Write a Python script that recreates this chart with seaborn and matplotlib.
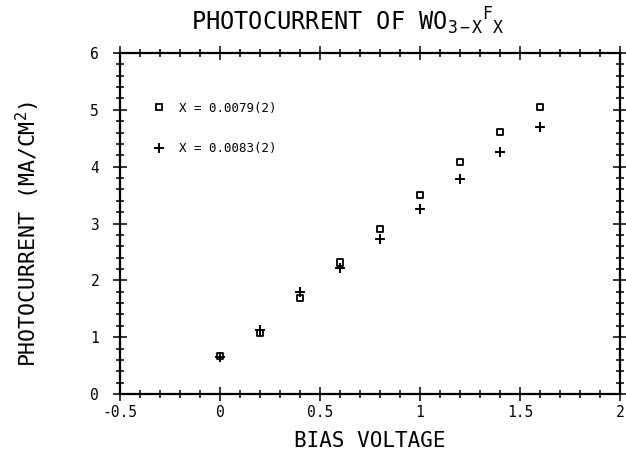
import numpy as np
import pandas as pd
import matplotlib
matplotlib.use("Agg")
import matplotlib.pyplot as plt
import seaborn as sns
from matplotlib.ticker import MultipleLocator
from matplotlib.lines import Line2D

# ---- data ----
bias_voltage = [0.0, 0.2, 0.4, 0.6, 0.8, 1.0, 1.2, 1.4, 1.6]
current_x0079 = [0.67, 1.07, 1.69, 2.31, 2.90, 3.50, 4.08, 4.61, 5.05]
current_x0083 = [0.65, 1.12, 1.80, 2.22, 2.73, 3.26, 3.79, 4.26, 4.70]
series_labels = ["X = 0.0079(2)", "X = 0.0083(2)"]
x_ticks = [-0.5, 0, 0.5, 1, 1.5, 2]
x_tick_labels = ["-0.5", "0", "0.5", "1", "1.5", "2"]
y_ticks = [0, 1, 2, 3, 4, 5, 6]

df = pd.DataFrame({
    "V": bias_voltage * 2,
    "I": current_x0079 + current_x0083,
    "series": [series_labels[0]] * len(bias_voltage) + [series_labels[1]] * len(bias_voltage),
})

sns.set_theme(style="white")
plt.rcParams["font.family"] = ["DejaVu Sans Mono", "DejaVu Sans"]
plt.rcParams["mathtext.fontset"] = "custom"
plt.rcParams["mathtext.rm"] = "DejaVu Sans Mono"
plt.rcParams["mathtext.it"] = "DejaVu Sans Mono"
plt.rcParams["mathtext.tt"] = "DejaVu Sans Mono"
plt.rcParams["text.color"] = "black"
plt.rcParams["axes.labelcolor"] = "black"
plt.rcParams["xtick.color"] = "black"
plt.rcParams["ytick.color"] = "black"

fig = plt.figure(figsize=(6.26, 4.66), dpi=100)
ax = fig.add_axes([120 / 626, 1 - 394 / 466, 500 / 626, (394 - 53) / 466])

d1 = df[df.series == series_labels[0]]
d2 = df[df.series == series_labels[1]]
sns.scatterplot(data=d1, x="V", y="I", marker="s", s=22, facecolor="none",
                edgecolor="black", linewidth=1.3, ax=ax, legend=False)
sns.scatterplot(data=d2, x="V", y="I", marker="+", s=45, color="black",
                linewidth=1.4, ax=ax, legend=False)

ax.set_xlim(-0.5, 2)
ax.set_ylim(0, 6)
ax.set_xticks(x_ticks)
ax.set_xticklabels(x_tick_labels)
ax.set_yticks(y_ticks)
ax.xaxis.set_minor_locator(MultipleLocator(0.1))
ax.yaxis.set_minor_locator(MultipleLocator(0.2))
ax.tick_params(which="both", direction="inout", top=True, right=True,
               bottom=True, left=True, color="black", width=1.1)
ax.tick_params(which="major", length=10, labelsize=10.5)
ax.tick_params(axis="x", which="major", pad=3)
ax.tick_params(axis="y", which="major", pad=10)
ax.tick_params(which="minor", length=6)
for sp in ax.spines.values():
    sp.set_color("black")
    sp.set_linewidth(1.6)

ax.set_xlabel("BIAS VOLTAGE", fontsize=15, labelpad=8)
ax.set_ylabel("PHOTOCURRENT (MA/CM$^{2}$)", fontsize=15.5)
ax.yaxis.set_label_coords(-0.155, 0.47)
ax.set_title("PHOTOCURRENT OF WO$_{3-X}{}^{F}{}_{X}$", fontsize=17, pad=16, x=0.455)

handles = [
    Line2D([], [], marker="s", linestyle="none", markerfacecolor="none",
           markeredgecolor="black", markersize=4.5, markeredgewidth=1.3),
    Line2D([], [], marker="+", linestyle="none", color="black",
           markersize=6.5, markeredgewidth=1.4),
]
leg = ax.legend(handles, series_labels, loc="upper left",
                bbox_to_anchor=(0.04, 0.89), frameon=False, fontsize=9,
                labelspacing=2.2, handletextpad=1.0, handlelength=1.2)

fig.savefig("out.png", dpi=100, facecolor="white")
